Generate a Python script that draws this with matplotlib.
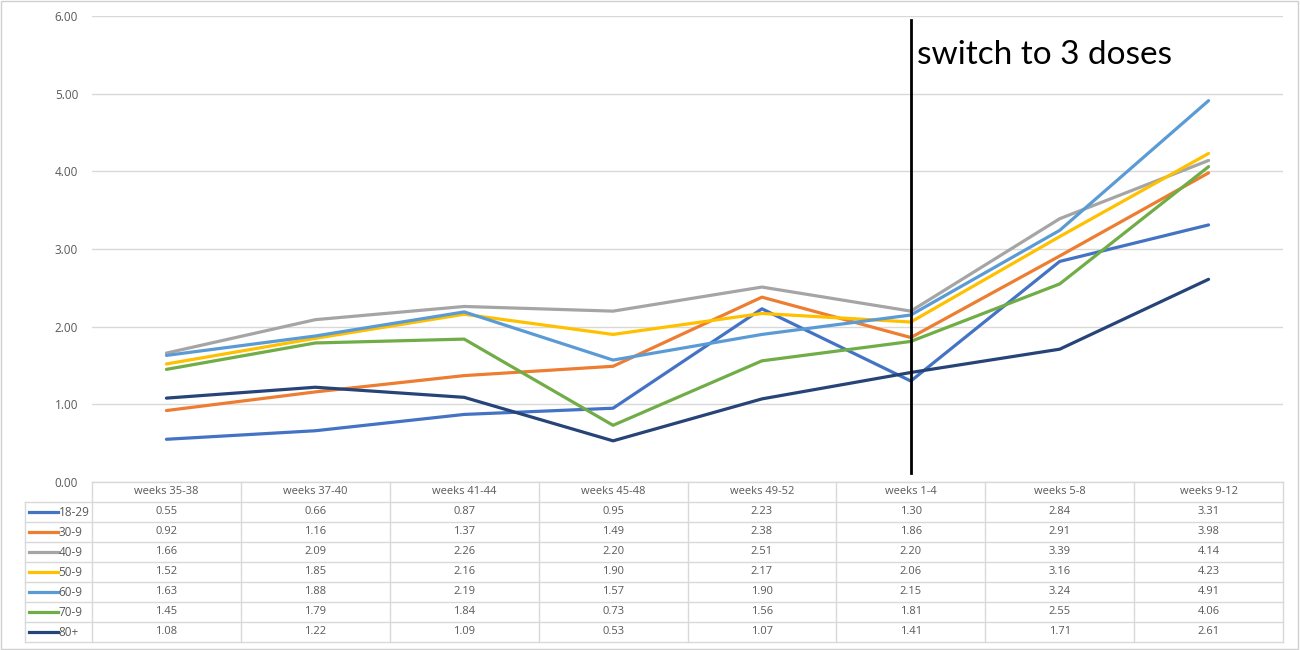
import matplotlib.pyplot as plt
import matplotlib.patches as mpatches
from matplotlib.lines import Line2D

plt.switch_backend("agg")

periods = ["weeks 35-38", "weeks 37-40", "weeks 41-44", "weeks 45-48",
           "weeks 49-52", "weeks 1-4", "weeks 5-8", "weeks 9-12"]
groups = ["18-29", "30-9", "40-9", "50-9", "60-9", "70-9", "80+"]

v_18_29 = [0.55, 0.66, 0.87, 0.95, 2.23, 1.30, 2.84, 3.31]
v_30_9 = [0.92, 1.16, 1.37, 1.49, 2.38, 1.86, 2.91, 3.98]
v_40_9 = [1.66, 2.09, 2.26, 2.20, 2.51, 2.20, 3.39, 4.14]
v_50_9 = [1.52, 1.85, 2.16, 1.90, 2.17, 2.06, 3.16, 4.23]
v_60_9 = [1.63, 1.88, 2.19, 1.57, 1.90, 2.15, 3.24, 4.91]
v_70_9 = [1.45, 1.79, 1.84, 0.73, 1.56, 1.81, 2.55, 4.06]
v_80 = [1.08, 1.22, 1.09, 0.53, 1.07, 1.41, 1.71, 2.61]
series = [v_18_29, v_30_9, v_40_9, v_50_9, v_60_9, v_70_9, v_80]

colors = ["#4472C4", "#ED7D31", "#A5A5A5", "#FFC000", "#5B9BD5", "#70AD47", "#264478"]

switch_idx = 5
switch_label = "switch to 3 doses"

W, H = 1300, 650
fig = plt.figure(figsize=(13, 6.5), dpi=100)

left = 92 / W
width = (1283 - 92) / W
ax = fig.add_axes([left, 1 - 482 / H, width, (482 - 16) / H])
tax = fig.add_axes([left, 1 - 642 / H, width, (642 - 482) / H])

grid_c = "#D9D9D9"
txt_c = "#595959"

x = list(range(len(periods)))
for vals, c in zip(series, colors):
    ax.plot(x, vals, color=c, lw=2.3, solid_capstyle="round", zorder=3)

ax.set_xlim(-0.5, len(periods) - 0.5)
ax.set_ylim(0, 6)
ax.set_yticks([0, 1, 2, 3, 4, 5, 6])
ax.set_yticklabels(["{:.2f}".format(t) for t in range(7)], color=txt_c, fontsize=8.5,
                   family="Open Sans")
ax.tick_params(axis="y", length=0, pad=10)
ax.set_xticks([])
for s in ax.spines.values():
    s.set_visible(False)
ax.yaxis.grid(True, color=grid_c, lw=1)
ax.set_axisbelow(True)

# switch marker
ax.plot([switch_idx, switch_idx], [0.12, 5.95], color="black", lw=2, zorder=4)
ax.text(switch_idx + 0.04, 5.5, switch_label, fontsize=24, family="Lato",
        va="center", ha="left", color="black")

# data table
nrows = len(groups) + 1
tax.set_xlim(-0.5, len(periods) - 0.5)
tax.set_ylim(nrows, 0)
tax.axis("off")
lw_t = 1
leg_left = -0.5 - (92 - 25) / ((1283 - 92) / len(periods))

# horizontal lines
tax.plot([-0.5, len(periods) - 0.5], [0, 0], color=grid_c, lw=lw_t, clip_on=False)
for r in range(1, nrows + 1):
    tax.plot([leg_left, len(periods) - 0.5], [r, r], color=grid_c, lw=lw_t, clip_on=False)
# vertical lines
for cidx in range(len(periods) + 1):
    tax.plot([cidx - 0.5, cidx - 0.5], [0, nrows], color=grid_c, lw=lw_t, clip_on=False)
tax.plot([leg_left, leg_left], [1, nrows], color=grid_c, lw=lw_t, clip_on=False)

for cidx, p in enumerate(periods):
    tax.text(cidx, 0.5, p, ha="center", va="center", fontsize=8, color=txt_c,
             family="Open Sans")
for r, (g, vals, c) in enumerate(zip(groups, series, colors), start=1):
    sw0 = leg_left + 0.03
    sw1 = leg_left + 0.22
    tax.add_line(Line2D([sw0, sw1], [r + 0.5, r + 0.5], color=c, lw=2.3, clip_on=False))
    tax.text(sw1 + 0.005, r + 0.5, g, ha="left", va="center", fontsize=8.5, color=txt_c,
             family="Open Sans", clip_on=False)
    for cidx, v in enumerate(vals):
        tax.text(cidx, r + 0.5, "{:.2f}".format(v), ha="center", va="center",
                 fontsize=8, color=txt_c, family="Open Sans")

# outer frame
fig.patches.append(mpatches.Rectangle((1 / W, 1 / H), 1297 / W, 1 - 2 / H,
                                      transform=fig.transFigure, fill=False,
                                      edgecolor="#D0D0D0", lw=1))

fig.savefig("out.png", dpi=100, facecolor="white")
